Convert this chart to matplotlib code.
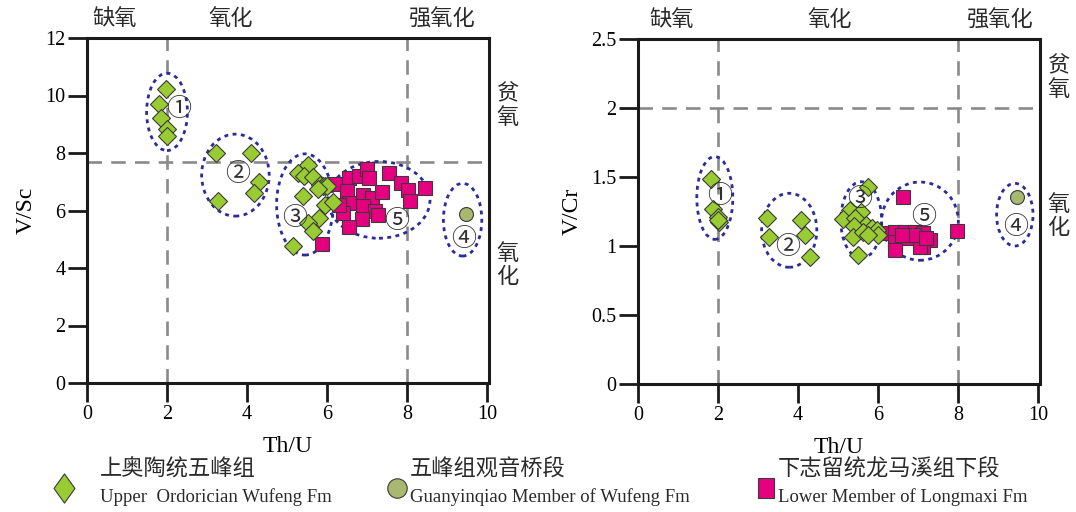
import matplotlib
matplotlib.use("Agg")
import matplotlib.pyplot as plt
from matplotlib.patches import Ellipse
from matplotlib.path import Path
from matplotlib.transforms import blended_transform_factory

# ---- data ----------------------------------------------------------------
# Upper Ordovician Wufeng Fm (diamonds)
wufeng_thu_a = [1.98, 1.80, 1.84, 1.99, 1.99,
                3.23, 4.09, 4.30, 4.18, 3.28,
                5.52, 5.28, 5.43, 5.64, 5.83, 5.89, 5.95, 6.01, 5.78, 5.41,
                5.95, 6.16, 5.81, 5.53, 5.64, 5.14]
wufeng_vsc = [10.21, 9.70, 9.21, 8.82, 8.59,
              7.99, 8.01, 7.00, 6.60, 6.34,
              7.58, 7.32, 7.19, 7.17, 6.90, 6.85, 6.85, 6.85, 6.74, 6.51,
              6.19, 6.30, 5.73, 5.56, 5.30, 4.77]

# Lower Member of Longmaxi Fm (squares)
longmaxi_thu_a = [5.87, 6.20, 6.56, 6.81, 7.01, 7.06, 7.56, 7.84, 8.03, 8.08,
                  8.45, 6.49, 6.89, 7.12, 7.37, 6.56, 6.89, 7.20, 6.41, 6.87,
                  6.56, 7.27, 6.30]
longmaxi_vsc = [4.82, 6.92, 7.12, 7.20, 7.43, 7.12, 7.32, 6.95, 6.71, 6.34,
                6.77, 6.69, 6.55, 6.42, 6.65, 6.27, 6.16, 5.99, 5.92, 5.69,
                5.44, 5.84, 6.20]

# Guanyinqiao Member of Wufeng Fm (circle)
guanyin_thu = [9.47]
guanyin_vsc = [5.88]
guanyin_vcr = [1.353]

wufeng_thu_b = [1.82, 1.87, 2.01, 2.03, 2.00,
                3.23, 4.07, 3.28, 4.18, 4.30,
                5.76, 5.30, 5.57, 5.13, 5.43, 5.70, 5.40, 5.84, 5.37, 5.63,
                5.97, 6.01, 5.76, 5.51]
wufeng_vcr = [1.488, 1.266, 1.212, 1.176, 1.190,
              1.205, 1.188, 1.067, 1.080, 0.922,
              1.425, 1.261, 1.249, 1.193, 1.200, 1.152, 1.145, 1.128, 1.067, 1.103,
              1.116, 1.080, 1.080, 0.935]

longmaxi_thu_b = [6.63, 6.18, 6.43, 6.68, 6.93, 7.13, 7.30, 7.13, 7.01, 6.72,
                  6.43, 6.43, 7.05, 7.97, 6.90, 7.20, 6.60]
longmaxi_vcr = [1.357, 1.092, 1.104, 1.104, 1.104, 1.092, 1.043, 0.995, 1.056, 1.056,
                1.031, 0.971, 0.995, 1.111, 1.080, 1.060, 1.080]

x_ticks = [0, 2, 4, 6, 8, 10]
vsc_ticks = [0, 2, 4, 6, 8, 10, 12]
vcr_ticks = [0, 0.5, 1, 1.5, 2, 2.5]
vcr_tick_labels = ["0", "0.5", "1", "1.5", "2", "2.5"]

# threshold lines
thu_limits = [2, 8]
vsc_limit = 7.7
vcr_limit = 2.0

# group outlines: (cx, cy, width, height, label, label_x, label_y)
groups_a = [
    (2.00, 9.43, 1.02, 2.69, "①", 2.30, 9.53),
    (3.71, 7.23, 1.69, 2.85, "②", 3.76, 7.27),
    (5.45, 6.21, 1.42, 3.52, "③", 5.18, 5.73),
    (9.39, 5.68, 0.96, 2.53, "④", 9.41, 5.00),
    (7.30, 6.37, 2.55, 2.67, "⑤", 7.74, 5.65),
]
groups_b = [
    (1.92, 1.348, 0.90, 0.600, "①", 2.05, 1.365),
    (3.78, 1.114, 1.38, 0.536, "②", 3.73, 0.995),
    (5.58, 1.188, 1.02, 0.555, "③", 5.53, 1.338),
    (9.42, 1.227, 0.91, 0.454, "④", 9.43, 1.135),
    (7.05, 1.180, 1.92, 0.567, "⑤", 7.13, 1.212),
]

# ---- style ---------------------------------------------------------------
SERIF = "Liberation Serif"
CJK = ["Noto Sans CJK SC", "DejaVu Sans"]
GREEN = "#99cc33"
PINK = "#e4007f"
OLIVE = "#a8b870"
EDGE = "#3a3a3a"
DASH_GRAY = "#8a8a8a"
OUTLINE = "#2b2b9c"
INK = "#2a2a2a"

fig = plt.figure(figsize=(10.76, 5.12), dpi=100)
ax1 = fig.add_axes([87 / 1076, 1 - 383 / 512, 402 / 1076, 345 / 512])
ax2 = fig.add_axes([638 / 1076, 1 - 384 / 512, 402 / 1076, 345 / 512])


def style_axes(ax, ylim, yticks, ylabels, ylabel):
    ax.set_xlim(0, 10.05)
    ax.set_ylim(*ylim)
    ax.set_xticks(x_ticks)
    ax.set_xticklabels([str(t) for t in x_ticks])
    ax.set_yticks(yticks)
    ax.set_yticklabels(ylabels)
    for sp in ax.spines.values():
        sp.set_linewidth(2.2)
        sp.set_color("#1a1a1a")
    ax.tick_params(direction="out", length=13.5, width=2.0, color="#1a1a1a",
                   labelsize=14.5, pad=2)
    for lab in ax.get_xticklabels() + ax.get_yticklabels():
        lab.set_family(SERIF)
    ax.set_xlabel("Th/U", family=SERIF, fontsize=17, labelpad=9)
    ax.set_ylabel(ylabel, family=SERIF, fontsize=17, labelpad=6)


def draw_panel(ax, wf_x, wf_y, lm_x, lm_y, gq_y, hline, groups):
    for xv in thu_limits:
        ax.axvline(xv, color=DASH_GRAY, lw=1.9, dashes=(5.5, 3.5), zorder=1)
    ax.axhline(hline, color=DASH_GRAY, lw=1.9, dashes=(5.5, 3.5), zorder=1)
    for cx, cy, w, h, lab, lx, ly in groups:
        ax.add_patch(Ellipse((cx, cy), w, h, fill=False, edgecolor=OUTLINE,
                             lw=2.0, linestyle=(0, (1.4, 1.6)), zorder=2))
        ax.text(lx, ly, lab, family=CJK, fontsize=18, ha="center", va="center",
                color="#303030", zorder=6)
    ax.plot(wf_x, wf_y, ls="none", marker="D", ms=8.8, mfc=GREEN, mec=EDGE,
            mew=0.8, zorder=4)
    ax.plot(lm_x, lm_y, ls="none", marker="s", ms=10.5, mfc=PINK, mec=EDGE,
            mew=0.8, zorder=3)
    ax.plot(guanyin_thu, gq_y, ls="none", marker="o", ms=10, mfc=OLIVE, mec=EDGE,
            mew=0.8, zorder=4)


style_axes(ax1, (0, 12), vsc_ticks, [str(t) for t in vsc_ticks], "V/Sc")
style_axes(ax2, (0, 2.5), vcr_ticks, vcr_tick_labels, "V/Cr")
draw_panel(ax1, wufeng_thu_a, wufeng_vsc, longmaxi_thu_a, longmaxi_vsc,
           guanyin_vsc, vsc_limit, groups_a)
draw_panel(ax2, wufeng_thu_b, wufeng_vcr, longmaxi_thu_b, longmaxi_vcr,
           guanyin_vcr, vcr_limit, groups_b)

# redox zone names above each panel and beside the right spine
top_names = [
    (ax1, [(0.70, "缺氧"), (3.58, "氧化"), (8.88, "强氧化")]),
    (ax2, [(0.85, "缺氧"), (4.80, "氧化"), (9.05, "强氧化")]),
]
for ax, names in top_names:
    tr = blended_transform_factory(ax.transData, ax.transAxes)
    for xv, txt in names:
        ax.text(xv, 1.022, txt, transform=tr, family=CJK, fontsize=16,
                fontweight="light", ha="center", va="bottom", color=INK)

side_names = [
    (ax1, [(0.805, "贫\n氧"), (0.342, "氧\n化")]),
    (ax2, [(0.888, "贫\n氧"), (0.487, "氧\n化")]),
]
for ax, names in side_names:
    for yv, txt in names:
        ax.text(1.045, yv, txt, transform=ax.transAxes, family=CJK, fontsize=16,
                fontweight="light", ha="center", va="center", linespacing=1.05,
                color=INK)

# ---- legend row ------------------------------------------------------------
lg = fig.add_axes([0, 0, 1, 1], facecolor="none")
lg.set_xlim(0, 1076)
lg.set_ylim(512, 0)
lg.axis("off")

tall_diamond = Path([(0, 1), (0.72, 0), (0, -1), (-0.72, 0), (0, 1)],
                    [Path.MOVETO, Path.LINETO, Path.LINETO, Path.LINETO,
                     Path.CLOSEPOLY])
tall_square = Path([(-0.4, -0.5), (0.4, -0.5), (0.4, 0.5), (-0.4, 0.5), (-0.4, -0.5)],
                   [Path.MOVETO, Path.LINETO, Path.LINETO, Path.LINETO,
                    Path.CLOSEPOLY])

legend_items = [
    (64, tall_diamond, 21, GREEN, 100, "上奥陶统五峰组", "Upper  Ordorician Wufeng Fm"),
    (397, "o", 14, OLIVE, 410, "五峰组观音桥段", "Guanyinqiao Member of Wufeng Fm"),
    (766, tall_square, 15, PINK, 778, "下志留统龙马溪组下段", "Lower Member of Longmaxi Fm"),
]
for mx, mk, ms, fc, tx, zh, en in legend_items:
    lg.plot([mx], [488], ls="none", marker=mk, ms=ms, mfc=fc, mec=EDGE, mew=0.8)
    lg.text(tx, 469, zh, family=CJK, fontsize=16, fontweight="light", ha="left",
            va="center", color=INK)
    lg.text(tx, 497, en, family=SERIF, fontsize=13.5, ha="left", va="center",
            color=INK)

fig.savefig("out.png", dpi=100)
